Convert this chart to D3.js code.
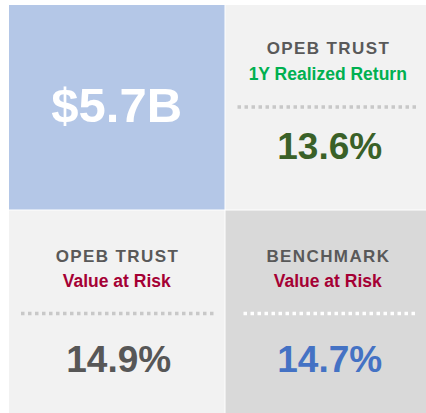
<!DOCTYPE html>
<html>
<head>
<script src="https://d3js.org/d3.v7.min.js"></script>
<style>
  body { margin: 0; background: #fff; }
  svg { display: block; font-family: "Liberation Sans", Arial, sans-serif; font-weight: bold; }
</style>
</head>
<body>
<div id="container"></div>
<script>
// tile contents, in order: top-left, top-right, bottom-left, bottom-right
const tileTitles = ["", "OPEB TRUST", "OPEB TRUST", "BENCHMARK"];
const tileSubtitles = ["", "1Y Realized Return", "Value at Risk", "Value at Risk"];
const tileValues = ["$5.7B", "13.6%", "14.9%", "14.7%"];

// styling per tile
const tileFill = ["#b4c7e7", "#f2f2f2", "#f2f2f2", "#d9d9d9"];
const subColor = ["#fff", "#00b050", "#a50034", "#a50034"];
const valueColor = ["#ffffff", "#3a6128", "#575757", "#4472c4"];
const dotColor = ["none", "#c8c8c8", "#c8c8c8", "#ffffff"];

const W = 426, H = 413;

const svg = d3.select("#container").append("svg")
  .attr("width", W)
  .attr("height", H);

// 2x2 grid
const x = d3.scaleBand().domain([0, 1]).range([9, 441]).paddingInner(1 / 216);
const y = d3.scaleBand().domain([0, 1]).range([5, 415]).paddingInner(1 / 205);

// vertical layout inside a tile (row dependent)
const titleDy = [49, 51];
const subDy = [75, 76];
const dotDy = [102, 103];
const valueDy = [154, 161];

const tiles = tileValues.map((v, i) => ({
  i: i, col: i % 2, row: Math.floor(i / 2),
  title: tileTitles[i], sub: tileSubtitles[i], value: v
}));

const g = svg.selectAll("g.tile").data(tiles).join("g")
  .attr("class", "tile")
  .attr("transform", d => "translate(" + x(d.col) + "," + y(d.row) + ")");

g.append("rect")
  .attr("width", x.bandwidth())
  .attr("height", y.bandwidth())
  .attr("fill", d => tileFill[d.i]);

// centre of the visible part of each tile
function cx(d) {
  const x0 = x(d.col);
  const x1 = Math.min(x0 + x.bandwidth(), W);
  return (x1 - x0) / 2 + (d.col === 1 ? 2 : 0);
}
function visW(d) {
  const x0 = x(d.col);
  return Math.min(x0 + x.bandwidth(), W) - x0;
}

// big figure tile
g.filter(d => d.title === "").append("text")
  .attr("x", d => cx(d))
  .attr("y", 117)
  .attr("text-anchor", "middle")
  .attr("fill", d => valueColor[d.i])
  .style("font-size", "49px")
  .text(d => d.value);

const kpi = g.filter(d => d.title !== "");

kpi.append("text")
  .attr("x", d => cx(d) + 0.7)
  .attr("y", d => titleDy[d.row])
  .attr("text-anchor", "middle")
  .attr("fill", "#595959")
  .style("font-size", "17px")
  .style("letter-spacing", "1.4px")
  .text(d => d.title);

kpi.append("text")
  .attr("x", d => cx(d))
  .attr("y", d => subDy[d.row])
  .attr("text-anchor", "middle")
  .attr("fill", d => subColor[d.i])
  .style("font-size", "17.5px")
  .text(d => d.sub);

kpi.append("line")
  .attr("x1", d => d.i === 3 ? 18 : 12)
  .attr("x2", d => visW(d) - 8)
  .attr("y1", d => dotDy[d.row])
  .attr("y2", d => dotDy[d.row])
  .attr("stroke", d => dotColor[d.i])
  .attr("stroke-width", 3.5)
  .attr("stroke-dasharray", "3.5,3.5");

kpi.append("text")
  .attr("x", d => cx(d) + 2)
  .attr("y", d => valueDy[d.row])
  .attr("text-anchor", "middle")
  .attr("fill", d => valueColor[d.i])
  .style("font-size", "37px")
  .text(d => d.value);
</script>
</body>
</html>
